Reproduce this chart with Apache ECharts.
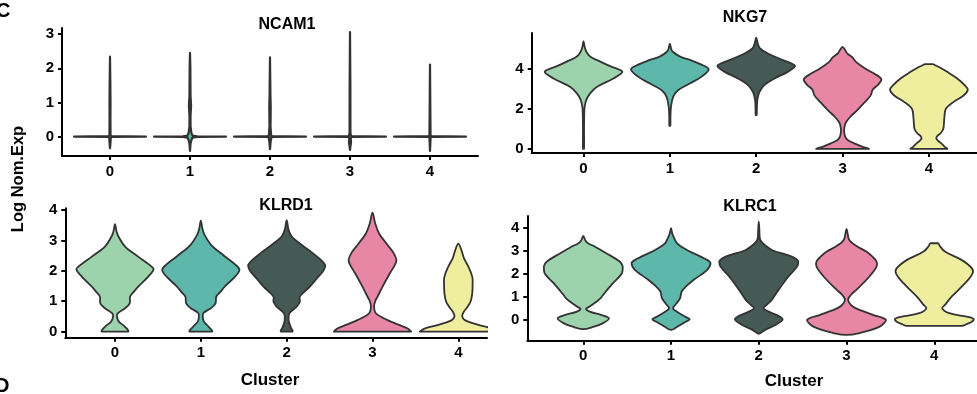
<!DOCTYPE html>
<html>
<head>
<meta charset="utf-8">
<script src="https://cdn.jsdelivr.net/npm/echarts@6/dist/echarts.min.js"></script>
<style>
html,body{margin:0;padding:0;background:#fff;}
#chart{width:977px;height:394px;}
</style>
</head>
<body>
<div id="chart"></div>
<script>
// ---------- DATA ----------
const clusters = ['0', '1', '2', '3', '4'];
const clusterColors = ['#9dd3ac', '#5eb7ab', '#455955', '#e886a6', '#efee9f'];
const genes = ['NCAM1', 'NKG7', 'KLRD1', 'KLRC1'];
const axisTitleX = 'Cluster';
const axisTitleY = 'Log Nom.Exp';

// Violin profiles: [expression value, relative half width (1 = widest)] from bottom to top
const ncam1Profiles = [
  [[-0.34,0],[-0.2,0.012],[-0.05,0.02],[-0.01,0.035],[0,1],[0.01,0.035],[0.05,0.015],[0.5,0.012],[1,0.014],[1.5,0.01],[2.34,0]],
  [[-0.42,0],[-0.2,0.015],[-0.1,0.04],[-0.03,0.07],[-0.008,0.2],[0,1],[0.008,0.2],[0.03,0.07],[0.1,0.04],[0.3,0.015],[0.6,0.014],[0.8,0.025],[0.9,0.03],[1.0,0.025],[1.2,0.014],[2,0.01],[2.45,0]],
  [[-0.37,0],[-0.15,0.018],[-0.05,0.035],[-0.01,0.05],[0,1],[0.01,0.05],[0.05,0.03],[0.3,0.014],[0.85,0.02],[1.2,0.012],[2.32,0]],
  [[-0.39,0],[-0.15,0.03],[-0.08,0.02],[-0.01,0.035],[0,1],[0.01,0.035],[0.1,0.012],[1.5,0.01],[3.06,0]],
  [[-0.42,0],[-0.05,0.015],[-0.01,0.03],[0,1],[0.01,0.03],[0.05,0.015],[2.11,0]]
];
const nkg7Profiles = [
  [[0,0.012],[1,0.014],[1.8,0.02],[2.1,0.03],[2.43,0.07],[2.76,0.17],[3.08,0.34],[3.5,0.77],[3.83,1],[4.1,0.7],[4.34,0.43],[4.59,0.17],[4.84,0.07],[5.1,0.025],[5.36,0]],
  [[1.15,0.012],[1.6,0.015],[2.1,0.03],[2.59,0.085],[2.92,0.21],[3.25,0.51],[3.58,0.81],[3.96,1],[4.2,0.8],[4.4,0.55],[4.6,0.25],[4.84,0.07],[5.0,0.03],[5.23,0]],
  [[1.68,0.012],[2.2,0.02],[2.5,0.035],[2.84,0.085],[3.17,0.21],[3.5,0.47],[3.83,0.81],[4.12,1],[4.41,0.69],[4.74,0.3],[4.99,0.1],[5.24,0.04],[5.53,0]],
  [[0,0.67],[0.12,0.5],[0.28,0.3],[0.45,0.13],[0.6,0.07],[0.8,0.045],[0.94,0.04],[1.1,0.05],[1.3,0.08],[1.6,0.2],[1.93,0.38],[2.3,0.56],[2.65,0.72],[2.95,0.78],[3.2,0.92],[3.45,1],[3.7,0.85],[4.0,0.58],[4.3,0.36],[4.57,0.24],[4.75,0.12],[4.9,0.07],[5.07,0]],
  [[0,0.47],[0.12,0.4],[0.28,0.32],[0.4,0.24],[0.53,0.19],[0.65,0.22],[0.78,0.3],[0.95,0.36],[1.1,0.38],[1.6,0.4],[2.01,0.44],[2.34,0.64],[2.67,0.9],[2.95,1],[3.17,0.92],[3.5,0.73],[3.83,0.47],[4.07,0.26],[4.16,0.16],[4.21,0.1]]
];
const klrd1Profiles = [
  [[0,0.34],[0.16,0.26],[0.33,0.1],[0.5,0.05],[0.6,0.07],[0.77,0.26],[0.93,0.38],[1.15,0.39],[1.3,0.48],[1.48,0.6],[1.81,0.86],[2.06,1],[2.19,0.9],[2.47,0.6],[2.8,0.26],[3.13,0.09],[3.3,0.04],[3.54,0]],
  [[0,0.29],[0.16,0.2],[0.33,0.08],[0.5,0.05],[0.62,0.07],[0.78,0.27],[0.93,0.38],[1.15,0.4],[1.3,0.5],[1.5,0.63],[1.8,0.88],[2.03,1],[2.2,0.9],[2.5,0.6],[2.85,0.27],[3.2,0.09],[3.4,0.04],[3.65,0]],
  [[0,0.15],[0.16,0.1],[0.38,0.05],[0.6,0.07],[0.82,0.26],[0.98,0.34],[1.15,0.34],[1.3,0.45],[1.48,0.6],[1.81,0.82],[2.0,0.95],[2.19,1],[2.4,0.85],[2.64,0.62],[2.9,0.34],[3.13,0.13],[3.35,0.05],[3.67,0]],
  [[0,1],[0.11,0.9],[0.22,0.69],[0.38,0.39],[0.6,0.09],[0.82,0.04],[1.0,0.07],[1.15,0.13],[1.48,0.26],[1.92,0.45],[2.2,0.58],[2.36,0.62],[2.6,0.54],[2.9,0.36],[3.23,0.17],[3.56,0.07],[3.92,0]],
  [[0,1],[0.11,0.86],[0.22,0.52],[0.38,0.17],[0.5,0.1],[0.65,0.14],[0.82,0.24],[1.0,0.32],[1.26,0.36],[1.55,0.37],[1.81,0.36],[2.14,0.26],[2.4,0.15],[2.64,0.09],[2.9,0]]
];
const klrc1Profiles = [
  [[-0.4,0],[-0.32,0.22],[-0.14,0.5],[0.07,0.65],[0.22,0.45],[0.36,0.16],[0.48,0.07],[0.58,0.16],[0.79,0.33],[0.94,0.44],[1.08,0.5],[1.59,0.75],[2.02,0.98],[2.31,1],[2.53,0.92],[2.89,0.58],[3.17,0.3],[3.32,0.12],[3.45,0.05],[3.64,0]],
  [[-0.43,0],[-0.32,0.14],[-0.14,0.31],[0.03,0.47],[0.14,0.36],[0.36,0.14],[0.51,0.05],[0.72,0.14],[0.94,0.23],[1.23,0.27],[1.45,0.38],[1.73,0.57],[2.16,0.91],[2.45,1],[2.6,0.91],[3.03,0.4],[3.3,0.16],[3.54,0.08],[3.75,0.03],[3.97,0]],
  [[-0.6,0],[-0.43,0.16],[-0.22,0.42],[0,0.6],[0.14,0.54],[0.36,0.25],[0.51,0.12],[0.65,0.2],[0.87,0.33],[1.3,0.5],[1.88,0.75],[2.31,0.97],[2.53,1],[2.74,0.84],[3.03,0.33],[3.32,0.1],[3.5,0.03],[3.9,0.015],[4.26,0]],
  [[-0.65,0],[-0.58,0.3],[-0.29,0.84],[0,1],[0.22,0.67],[0.4,0.38],[0.58,0.16],[0.87,0.04],[1.1,0.12],[1.3,0.25],[1.88,0.58],[2.31,0.76],[2.53,0.76],[2.75,0.65],[2.96,0.5],[3.2,0.25],[3.46,0.07],[3.93,0]],
  [[-0.26,0.7],[-0.2,0.8],[-0.08,0.95],[0.03,1],[0.12,0.88],[0.29,0.38],[0.5,0.2],[0.65,0.27],[1.01,0.44],[1.59,0.78],[2.02,0.97],[2.24,0.95],[2.6,0.69],[2.96,0.27],[3.2,0.14],[3.32,0.1]]
];
const yTicksNCAM1 = [0, 1, 2, 3];
const yTicksNKG7 = [0, 2, 4];
const yTicksKLRD1 = [0, 1, 2, 3, 4];
const yTicksKLRC1 = [0, 1, 2, 3, 4];
const xTicks = [0, 1, 2, 3, 4];

// ---------- LAYOUT ----------
const panels = [
  {gene: genes[0], profiles: ncam1Profiles, yTicks: yTicksNCAM1, smooth: 0, stroke: 2.2,
   grid: {left: 62, top: 28, width: 416, height: 128}, x: [-0.6, 4.6], y: [-0.57, 3.18],
   title: [287, 25]},
  {gene: genes[1], profiles: nkg7Profiles, yTicks: yTicksNKG7, smooth: 0.35, stroke: 1.8,
   grid: {left: 531.7, top: 33, width: 445.3, height: 120}, x: [-0.6, 4.557], y: [-0.2, 5.76],
   title: [745, 18]},
  {gene: genes[2], profiles: klrd1Profiles, yTicks: yTicksKLRD1, smooth: 0.35, stroke: 1.8,
   grid: {left: 65.3, top: 208.3, width: 421.7, height: 129.4}, x: [-0.579, 4.334], y: [-0.2, 4.06],
   title: [286, 206]},
  {gene: genes[3], profiles: klrc1Profiles, yTicks: yTicksKLRC1, smooth: 0.35, stroke: 1.8,
   grid: {left: 527.3, top: 216, width: 449.7, height: 124.7}, x: [-0.638, 4.487], y: [-0.9, 4.5],
   title: [750, 207]}
];

const FONT = '"Liberation Sans", Arial, sans-serif';
const lineSt = {color: '#000', width: 2};

const chart = echarts.init(document.getElementById('chart'), null, {renderer: 'canvas'});

const grids = [], xAxes = [], yAxes = [], series = [], graphics = [];
panels.forEach((p, i) => {
  grids.push(Object.assign({containLabel: false}, p.grid));
  xAxes.push({
    type: 'value', gridIndex: i, min: p.x[0], max: p.x[1],
    axisLine: {show: true, onZero: false, lineStyle: lineSt},
    axisTick: {show: true, length: 4, lineStyle: lineSt, customValues: xTicks},
    axisLabel: {show: true, customValues: xTicks, color: '#000', fontWeight: 'bold', fontSize: 15,
      fontFamily: FONT, margin: 8, formatter: v => clusters[Math.round(v)]},
    splitLine: {show: false}
  });
  yAxes.push({
    type: 'value', gridIndex: i, min: p.y[0], max: p.y[1],
    axisLine: {show: true, onZero: false, lineStyle: lineSt},
    axisTick: {show: true, length: 4, lineStyle: lineSt, customValues: p.yTicks},
    axisLabel: {show: true, customValues: p.yTicks, color: '#000', fontWeight: 'bold', fontSize: 15,
      fontFamily: FONT, margin: 8},
    splitLine: {show: false}
  });
  series.push({
    type: 'custom', xAxisIndex: i, yAxisIndex: i, clip: true,
    data: clusters.map((c, ci) => [ci]),
    renderItem: (params, api) => {
      const ci = api.value(0);
      const prof = p.profiles[ci];
      const right = prof.map(([v, w]) => api.coord([ci + w * 0.45, v]));
      const leftSrc = prof.slice().reverse().filter(([v, w]) => w > 0);
      const left = leftSrc.map(([v, w]) => api.coord([ci - w * 0.45, v]));
      const pts = right.concat(left);
      const shape = {points: pts};
      if (p.smooth) {
        shape.smooth = p.smooth;
        shape.smoothConstraint = [pts[0].slice(), pts[0].slice()];
      }
      return {
        type: 'polygon', shape: shape,
        style: {fill: clusterColors[ci], stroke: '#333333', lineWidth: p.stroke, lineJoin: 'round'}
      };
    }
  });
  graphics.push({
    type: 'text', x: p.title[0], y: p.title[1],
    style: {text: p.gene, fill: '#000', font: 'bold 16px ' + FONT, textAlign: 'center', textVerticalAlign: 'middle'}
  });
});

graphics.push({type: 'text', x: 270, y: 380,
  style: {text: axisTitleX, fill: '#000', font: 'bold 17px ' + FONT, textAlign: 'center', textVerticalAlign: 'middle'}});
graphics.push({type: 'text', x: 794, y: 381,
  style: {text: axisTitleX, fill: '#000', font: 'bold 17px ' + FONT, textAlign: 'center', textVerticalAlign: 'middle'}});
graphics.push({type: 'text', x: 18, y: 179, rotation: Math.PI / 2,
  style: {text: axisTitleY, fill: '#000', font: 'bold 16.5px ' + FONT, textAlign: 'center', textVerticalAlign: 'middle'}});
graphics.push({type: 'text', x: -4, y: 11,
  style: {text: 'C', fill: '#000', font: 'bold 20px ' + FONT, textAlign: 'left', textVerticalAlign: 'middle'}});
graphics.push({type: 'text', x: -5, y: 386,
  style: {text: 'D', fill: '#000', font: 'bold 20px ' + FONT, textAlign: 'left', textVerticalAlign: 'middle'}});

chart.setOption({
  animation: false,
  backgroundColor: '#fff',
  grid: grids, xAxis: xAxes, yAxis: yAxes, series: series, graphic: graphics
});
</script>
</body>
</html>
